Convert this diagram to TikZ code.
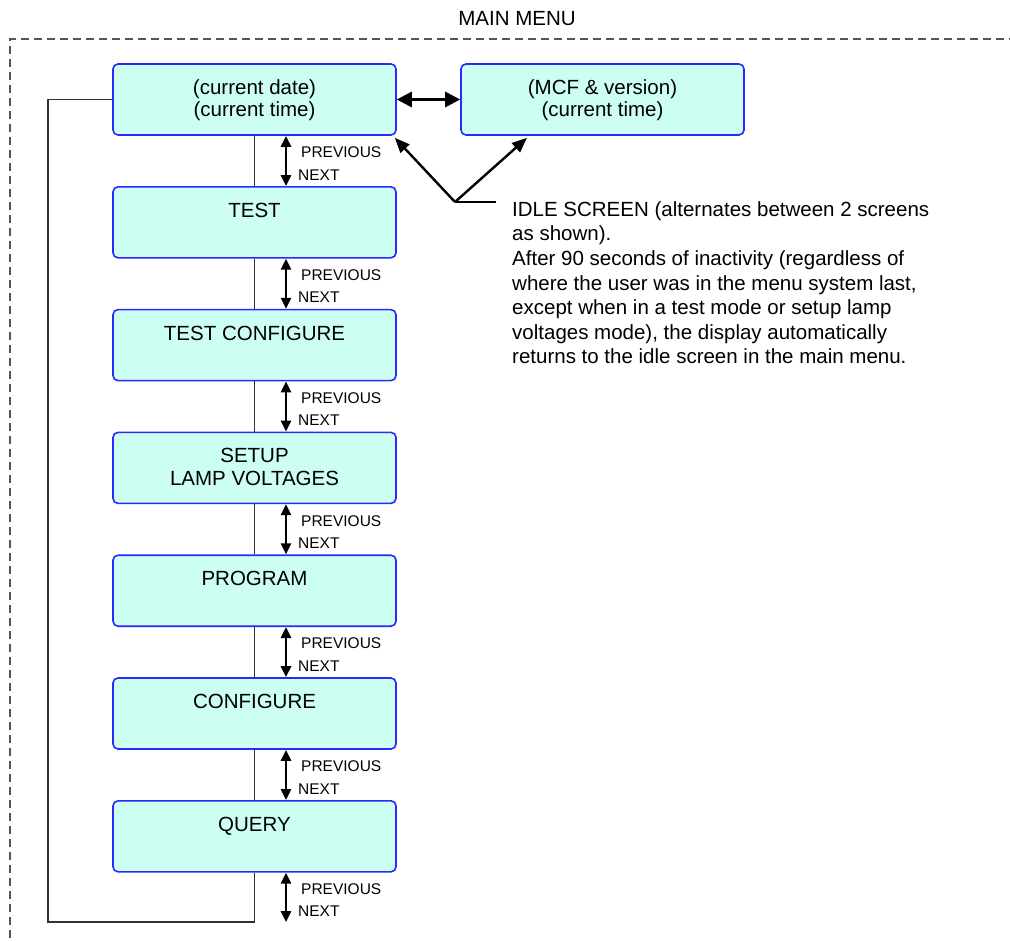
\documentclass[tikz,border=0pt]{standalone}
\usepackage{fontspec}
\setmainfont{Liberation Sans}
\usetikzlibrary{arrows.meta}
\definecolor{scrfill}{RGB}{204,255,242}
\definecolor{scrdraw}{RGB}{40,40,255}
\definecolor{dashgray}{RGB}{85,85,85}
\definecolor{conngray}{RGB}{50,50,50}
\newcommand\tstr{\rule{0pt}{18.5pt}}
\newcommand\bstr{\rule[-6pt]{0pt}{6pt}}
\begin{document}
\begin{tikzpicture}[x=1pt,y=-1pt,
  scr/.style={draw=scrdraw, fill=scrfill, line width=1.6pt, rounded corners=5pt,
    minimum width=283pt, minimum height=71pt, inner sep=0pt, align=center,
    font=\fontsize{20.5}{22.5}\selectfont},
  conn/.style={draw=conngray, line width=1.1pt},
  vdbl/.style={{Triangle[length=11pt,width=10pt]}-{Triangle[length=11pt,width=10pt]}, line width=2.6pt},
  hdbl/.style={{Triangle[length=15pt,width=15pt]}-{Triangle[length=15pt,width=15pt]}, line width=3pt},
  ptr/.style={-{Triangle[length=15pt,width=12pt]}, line width=2.4pt},
  small/.style={font=\fontsize{15.5}{17}\selectfont, inner sep=0pt, anchor=west},
  big/.style={font=\fontsize{20.5}{24.6}\selectfont, inner sep=0pt}]
\useasboundingbox (0,0) rectangle (1010,942);

% dashed frame
\draw[dashgray, line width=1.4pt, dash pattern=on 8pt off 5pt] (1030,39) -- (10,39) -- (10,970);
\node[big] (title) at (517,19) {MAIN MENU};

% screens
\node[scr] (b1) at (254.5,99.5) {\tstr(current date)\\(current time)\bstr};
\node[scr] (m)  at (602.5,99.5) {\tstr(MCF \& version)\\(current time)\bstr};
\node[scr] (b2) at (254.5,222.3) {\tstr TEST\\\bstr};
\node[scr] (b3) at (254.5,345.1) {\tstr TEST CONFIGURE\\\bstr};
\node[scr] (b4) at (254.5,467.9) {\tstr SETUP\\LAMP VOLTAGES\bstr};
\node[scr] (b5) at (254.5,590.7) {\tstr PROGRAM\\\bstr};
\node[scr] (b6) at (254.5,713.5) {\tstr CONFIGURE\\\bstr};
\node[scr] (b7) at (254.5,836.3) {\tstr QUERY\\\bstr};

% connectors between screens
\foreach \a/\b in {b1/b2,b2/b3,b3/b4,b4/b5,b5/b6,b6/b7}{
  \draw[conn] (\a.south) -- (\b.north);
  \draw[vdbl] ([xshift=31.5pt]\a.south) -- ([xshift=31.5pt]\b.north);
  \node[small] (p\a) at ([shift={(46.5pt,-16.5pt)}]\a.south) {PREVIOUS};
  \node[small] (n\a) at ([shift={(43.5pt,-39pt)}]\a.south) {NEXT};
}
% loop back
\coordinate (cl) at (48,922);
\coordinate (ae) at (286,922);
\draw[conn] (b7.south) |- (cl) |- (b1.west);
\draw[vdbl] ([xshift=31.5pt]b7.south) -- (ae);
\node[small] (pb7) at ([shift={(46.5pt,-16.5pt)}]b7.south) {PREVIOUS};
\node[small] (nb7) at ([shift={(43.5pt,-39pt)}]b7.south) {NEXT};

% idle alternation
\draw[hdbl] (b1.east) -- (m.west);
\coordinate (v) at (455,202);
\coordinate (ve) at (496,202);
\draw[line width=2.2pt] (v) -- (ve);
\draw[ptr] (v) -- ([shift={(-2pt,-2pt)}]b1.south east);
\draw[ptr] (v) -- ([shift={(-75.5pt,-2pt)}]m.south);
\node[big, anchor=north west, align=left] (idle) at (512,199) {\rule{0pt}{17pt}IDLE SCREEN (alternates between 2 screens\\
as shown).\\
After 90 seconds of inactivity (regardless of\\
where the user was in the menu system last,\\
except when in a test mode or setup lamp\\
voltages mode), the display automatically\\
returns to the idle screen in the main menu.};
\end{tikzpicture}
\end{document}
